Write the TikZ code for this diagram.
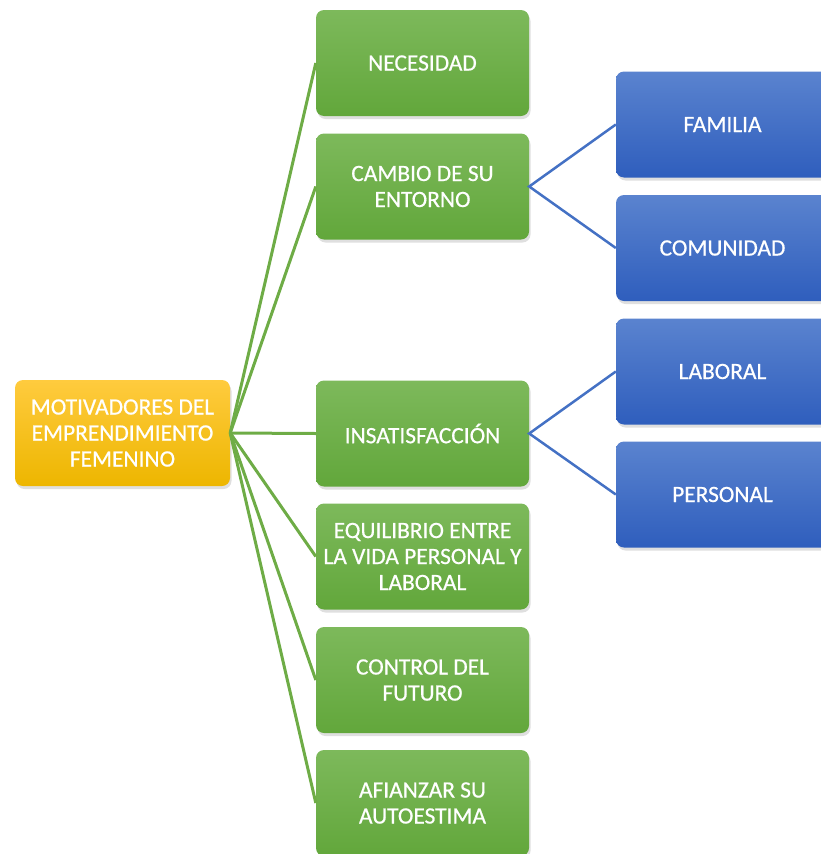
\documentclass[tikz,border=0pt]{standalone}
\usepackage{fontspec}
\setmainfont{Carlito}[FakeBold=0.6]
\usetikzlibrary{shadows}
\definecolor{gtop}{HTML}{7DB95B}
\definecolor{gbot}{HTML}{62A73B}
\definecolor{btop}{HTML}{5A83CF}
\definecolor{bbot}{HTML}{2F5EBD}
\definecolor{otop}{HTML}{FFCB3E}
\definecolor{obot}{HTML}{EDB600}
\definecolor{gline}{HTML}{6EAC46}
\definecolor{bline}{HTML}{4471C4}
\tikzset{
  box/.style={rounded corners=8pt, minimum width=213pt, minimum height=106pt,
    align=center, text=white, inner sep=0pt,
    font=\fontsize{23.4}{26}\selectfont,
    drop shadow={shadow xshift=1.5pt, shadow yshift=-3pt, opacity=0.25}},
  gbox/.style={box, top color=gtop, bottom color=gbot},
  bbox/.style={box, top color=btop, bottom color=bbot},
  obox/.style={box, minimum width=215pt, top color=otop, bottom color=obot},
  glink/.style={draw=gline, line width=3pt},
  blink/.style={draw=bline, line width=2.5pt}
}
\begin{document}
\begin{tikzpicture}[x=1pt,y=-1pt]
\useasboundingbox (0,0) rectangle (821,854);
\node[obox] (root) at (122.5,433) {MOTIVADORES DEL\\EMPRENDIMIENTO\\FEMENINO};
\node[gbox] (g1) at (422.5,63) {NECESIDAD};
\node[gbox] (g2) at (422.5,186.5) {CAMBIO DE SU\\ENTORNO};
\node[gbox] (g3) at (422.5,433.5) {INSATISFACCIÓN};
\node[gbox] (g4) at (422.5,556.5) {EQUILIBRIO ENTRE\\LA VIDA PERSONAL Y\\LABORAL};
\node[gbox] (g5) at (422.5,680) {CONTROL DEL\\FUTURO};
\node[gbox] (g6) at (422.5,803) {AFIANZAR SU\\AUTOESTIMA};
\node[bbox] (b1) at (722.5,124.5) {FAMILIA};
\node[bbox] (b2) at (722.5,248) {COMUNIDAD};
\node[bbox] (b3) at (722.5,371.5) {LABORAL};
\node[bbox] (b4) at (722.5,494.5) {PERSONAL};
\foreach \g in {g1,g2,g3,g4,g5,g6} \draw[glink] (root.east) -- (\g.west);
\draw[blink] (b1.west) -- (g2.east) -- (b2.west);
\draw[blink] (b3.west) -- (g3.east) -- (b4.west);
\end{tikzpicture}
\end{document}
